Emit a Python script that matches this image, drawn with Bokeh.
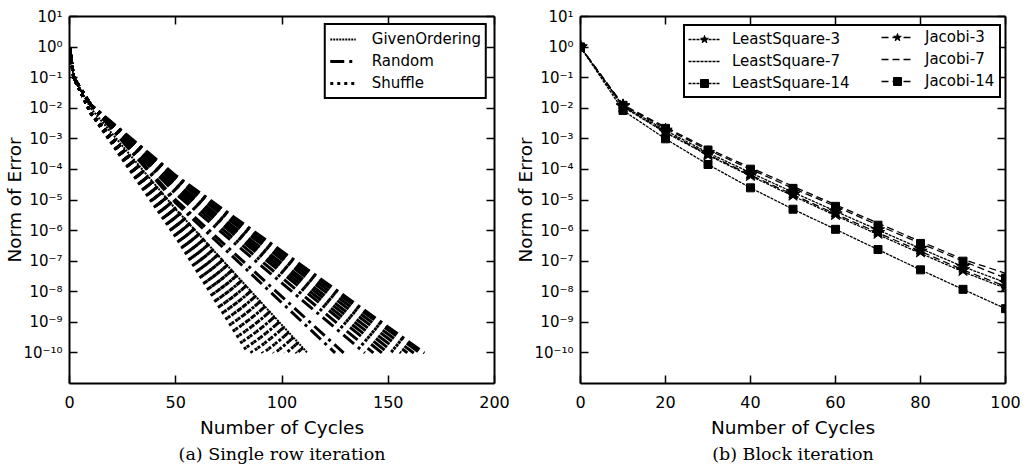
from bokeh.plotting import figure
from bokeh.models import (Range1d, FixedTicker, CustomJSTickFormatter, LinearAxis, LogAxis,
                          Legend, LegendItem, Title)
from bokeh.layouts import row
from bokeh.embed import file_html
from bokeh.resources import INLINE

FONT = "DejaVu Sans"

# ---------------- data ----------------
ytick_values = [1e1, 1e0, 1e-1, 1e-2, 1e-3, 1e-4, 1e-5, 1e-6, 1e-7, 1e-8, 1e-9, 1e-10]
ytick_exps = [1, 0, -1, -2, -3, -4, -5, -6, -7, -8, -9, -10]
ytick_labels = ["10¹", "10⁰", "10⁻¹", "10⁻²", "10⁻³", "10⁻⁴", "10⁻⁵", "10⁻⁶",
                "10⁻⁷", "10⁻⁸", "10⁻⁹", "10⁻¹⁰"]
left_xticks = [0, 50, 100, 150, 200]
right_xticks = [0, 20, 40, 60, 80, 100]

# (a) single row iteration: checkpoints at cycles 0, 2, 10, 50 and final cycle (error 1e-10)
start_cycles = [0, 2, 10, 50]
final_err = 1e-10
random_err0 = [1.0, 0.1, 1.3e-2]
random_end = [125, 129, 139, 143, 147, 150, 153, 156, 159, 162, 165, 167]
random_err50 = [8e-6, 1e-5, 1.6e-5, 2e-5, 2.5e-5, 2.8e-5, 3.2e-5, 3.5e-5, 4.5e-5, 5e-5, 5.6e-5, 6.3e-5]
shuffle_err0 = [1.0, 0.1, 7e-3]
shuffle_end = [84, 86, 89, 91, 94, 96, 99, 101, 104, 107, 109, 111]
shuffle_err50 = [6.3e-7, 8e-7, 1e-6, 1.3e-6, 1.6e-6, 1.8e-6, 2.2e-6, 2.5e-6, 3.2e-6, 4e-6, 4.5e-6, 5e-6]
given_cycles = [0, 2, 10, 50, 112]
given_err = [1.0, 0.1, 1e-2, 5e-6, 1e-10]

# (b) block iteration
block_cycles = [0, 10, 20, 30, 40, 50, 60, 70, 80, 90, 100]
ls3 = [1.0, 1.2e-2, 1.9e-3, 3.5e-4, 7.8e-5, 1.8e-5, 4.3e-6, 1.05e-6, 2.6e-7, 6.6e-8, 2.0e-8]
ls7 = [1.0, 1.1e-2, 1.6e-3, 2.9e-4, 6.1e-5, 1.35e-5, 3.1e-6, 7.4e-7, 1.8e-7, 4.5e-8, 1.3e-8]
ls14 = [1.0, 8.5e-3, 1.0e-3, 1.45e-4, 2.5e-5, 5.0e-6, 1.1e-6, 2.4e-7, 5.2e-8, 1.2e-8, 2.8e-9]
jac3 = [1.0, 1.15e-2, 1.7e-3, 3.1e-4, 6.6e-5, 1.5e-5, 3.5e-6, 8.5e-7, 2.1e-7, 5.2e-8, 1.5e-8]
jac7 = [1.0, 1.3e-2, 2.4e-3, 4.8e-4, 1.15e-4, 2.8e-5, 7.0e-6, 1.75e-6, 4.4e-7, 1.15e-7, 4.0e-8]
jac14 = [1.0, 1.25e-2, 2.2e-3, 4.3e-4, 1.02e-4, 2.4e-5, 6.2e-6, 1.5e-6, 3.8e-7, 1.0e-7, 2.8e-8]


def make_fig(xmax, xticks, caption, right_border):
    p = figure(frame_width=425, frame_height=367, x_range=Range1d(0, xmax),
               y_range=Range1d(1e-11, 10), y_axis_type="log", output_backend="svg",
               toolbar_location=None, min_border_left=69, min_border_right=right_border,
               min_border_top=16, min_border_bottom=0)
    p.grid.visible = False
    p.outline_line_color = None
    p.background_fill_color = "white"
    p.border_fill_color = "white"
    fmt = CustomJSTickFormatter(args=dict(exps=ytick_exps, labels=ytick_labels), code="""
        const e = Math.round(Math.log10(tick));
        const i = exps.indexOf(e);
        return i >= 0 ? labels[i] : "";
    """)
    yax = p.yaxis[0]
    yax.ticker = FixedTicker(ticks=ytick_values)
    yax.formatter = fmt
    xax = p.xaxis[0]
    xax.ticker = FixedTicker(ticks=xticks)
    for ax in (xax, yax):
        ax.major_tick_in = 8
        ax.major_tick_out = 0
        ax.minor_tick_line_color = None
        ax.axis_line_width = 2
        ax.major_tick_line_width = 1.5
        ax.major_label_text_font = FONT
        ax.major_label_text_color = "black"
        ax.axis_label_text_font = FONT
        ax.axis_label_text_font_size = "18.5px"
        ax.axis_label_text_font_style = "normal"
        ax.axis_label_text_color = "black"
    xax.major_label_text_font_size = "16px"
    yax.major_label_text_font_size = "15px"
    xax.axis_label = "Number of Cycles"
    yax.axis_label = "Norm of Error"
    xax.major_label_standoff = 12
    xax.axis_label_standoff = 6
    yax.major_label_standoff = 7
    yax.axis_label_standoff = -5
    top = LinearAxis(ticker=FixedTicker(ticks=xticks), major_tick_in=8, major_tick_out=0,
                     minor_tick_line_color=None, axis_line_width=2, major_tick_line_width=1.5,
                     major_label_text_font_size="1px", major_label_text_color=None,
                     major_label_standoff=0)
    right = LogAxis(ticker=FixedTicker(ticks=ytick_values), major_tick_in=8, major_tick_out=0,
                    minor_tick_line_color=None, axis_line_width=2, major_tick_line_width=1.5,
                    major_label_text_font_size="1px", major_label_text_color=None,
                    major_label_standoff=0)
    p.add_layout(top, "above")
    p.add_layout(right, "right")
    p.add_layout(Title(text=caption, align="center", text_font="DejaVu Serif",
                       text_font_size="17.5px", text_font_style="normal", text_color="black",
                       standoff=3), "below")
    return p


LEG = dict(border_line_color="black", border_line_width=2, border_line_alpha=1.0,
           label_text_font=FONT, label_text_font_size="15px", label_text_color="black",
           label_height=20, spacing=2)

# ---------------- left panel ----------------
p1 = make_fig(200, left_xticks, "(a) Single row iteration", 17)

given_r = p1.line(given_cycles, given_err, line_color="black", line_width=2, line_dash="2 1")
rand_xs = [start_cycles + [e] for e in random_end]
rand_ys = [random_err0 + [m, final_err] for m in random_err50]
rand_r = p1.multi_line(rand_xs, rand_ys, line_color="black", line_width=3, line_dash="14 5 3 5")
shuf_xs = [start_cycles + [e] for e in shuffle_end]
shuf_ys = [shuffle_err0 + [m, final_err] for m in shuffle_err50]
shuf_r = p1.multi_line(shuf_xs, shuf_ys, line_color="black", line_width=3, line_dash="3 4")

leg1 = Legend(items=[LegendItem(label="GivenOrdering", renderers=[given_r]),
                      LegendItem(label="Random", renderers=[rand_r]),
                      LegendItem(label="Shuffle", renderers=[shuf_r])],
              location="top_right", margin=7, glyph_width=26, label_standoff=16,
              padding=4, **LEG)
p1.add_layout(leg1)

# ---------------- right panel ----------------
p2 = make_fig(100, right_xticks, "(b) Block iteration", 18)

lw = 1.3
r_ls3l = p2.line(block_cycles, ls3, line_color="black", line_width=lw, line_dash="3 1")
r_ls3m = p2.scatter(block_cycles, ls3, marker="star", size=14, color="black")
r_ls7l = p2.line(block_cycles, ls7, line_color="black", line_width=lw, line_dash="3 1")
r_ls14l = p2.line(block_cycles, ls14, line_color="black", line_width=lw, line_dash="3 1")
r_ls14m = p2.scatter(block_cycles, ls14, marker="square", size=8, color="black")
r_j3l = p2.line(block_cycles, jac3, line_color="black", line_width=lw, line_dash="7 4")
r_j3m = p2.scatter(block_cycles, jac3, marker="star", size=14, color="black")
r_j7l = p2.line(block_cycles, jac7, line_color="black", line_width=lw, line_dash="7 4")
r_j14l = p2.line(block_cycles, jac14, line_color="black", line_width=lw, line_dash="7 4")
r_j14m = p2.scatter(block_cycles, jac14, marker="square", size=8, color="black")

# one bordered box holding the first column, a borderless legend overlaid for the second
leg2a = Legend(items=[LegendItem(label="LeastSquare-3", renderers=[r_ls3l, r_ls3m]),
                      LegendItem(label="LeastSquare-7", renderers=[r_ls7l]),
                      LegendItem(label="LeastSquare-14", renderers=[r_ls14l, r_ls14m])],
               location=(103, 285), glyph_width=32, label_standoff=12, label_width=264,
               padding=3, **LEG)
leg2b = Legend(items=[LegendItem(label="Jacobi-3", renderers=[r_j3l, r_j3m]),
                      LegendItem(label="Jacobi-7", renderers=[r_j7l]),
                      LegendItem(label="Jacobi-14", renderers=[r_j14l, r_j14m])],
               location=(301, 292), glyph_width=32, label_standoff=12, padding=3,
               background_fill_alpha=0.0, **{**LEG, "border_line_color": None})
p2.add_layout(leg2a)
p2.add_layout(leg2b)

layout = row(p1, p2)
open("out.html", "w").write(file_html(layout, INLINE))
